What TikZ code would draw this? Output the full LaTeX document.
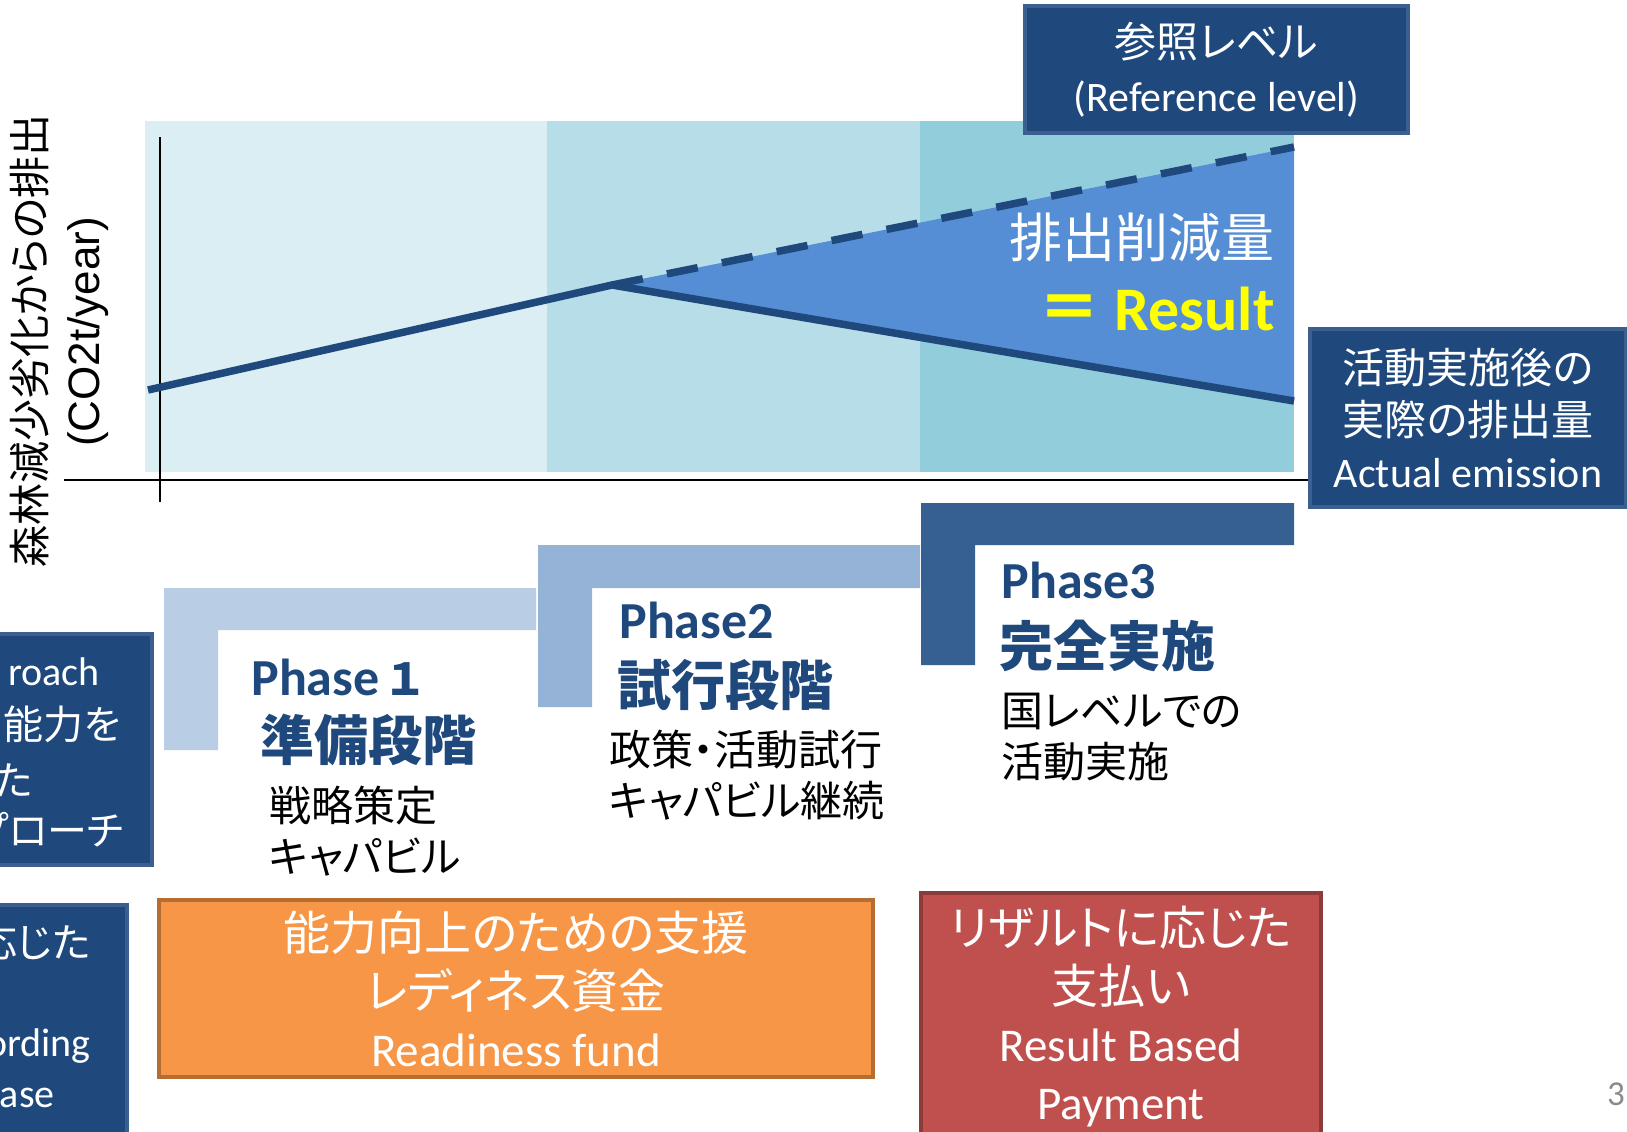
\documentclass[tikz,border=0pt]{standalone}
\usepackage{fontspec}
\setmainfont{Carlito}
\newfontfamily\jpfont[RawFeature=+palt]{Noto Sans CJK JP}
\newfontfamily\arialfont{Liberation Sans}
\usetikzlibrary{positioning}

\definecolor{panela}{HTML}{DAEEF3}
\definecolor{panelb}{HTML}{B7DEE8}
\definecolor{panelc}{HTML}{92CDDC}
\definecolor{gain}{HTML}{558ED5}
\definecolor{emisline}{HTML}{1F497D}
\definecolor{boxfill}{HTML}{1F497D}
\definecolor{boxedge}{HTML}{3B6090}
\definecolor{phasea}{HTML}{B9CDE5}
\definecolor{phaseb}{HTML}{95B3D7}
\definecolor{phasec}{HTML}{376092}
\definecolor{phasetext}{HTML}{1F497D}
\definecolor{fundfill}{HTML}{F79646}
\definecolor{fundedge}{HTML}{B66D31}
\definecolor{payfill}{HTML}{C0504D}
\definecolor{payedge}{HTML}{8C3B3B}
\definecolor{resultyellow}{HTML}{FFFF00}
\definecolor{pagegray}{HTML}{8B8B8B}

\begin{document}
\begin{tikzpicture}[x=0.5pt, y=-0.5pt, node distance=25.5pt, on grid,
    boxpaint/.style={draw=boxedge, line width=2pt, fill=boxfill},
    darkbox/.style={boxpaint, text=white, align=center, inner sep=0pt},
    cutline/.style={text=white, inner sep=0pt, font=\fontsize{20}{24}\selectfont},
    phasehead/.style={text=phasetext, inner sep=0pt, anchor=base west, font=\fontsize{26}{30}\selectfont\bfseries},
    stagename/.style={text=phasetext, inner sep=0pt, anchor=west, font=\jpfont\fontsize{27}{32}\selectfont\bfseries},
    body/.style={inner sep=0pt, anchor=west, font=\jpfont\fontsize{21}{25}\selectfont},
    fundbox/.style={line width=2pt, text=white, align=center, inner sep=0pt, font=\fontsize{23.5}{29}\selectfont},
    emis/.style={draw=emisline, line width=3.75pt}]
   \useasboundingbox (0,0) rectangle (1627,1131);
   \clip (0,0) rectangle (1627,1131);

   % chart background, one band per phase
   \fill[panela] (145,121) rectangle (547,472);
   \fill[panelb] (547,121) rectangle (920,472);
   \fill[panelc] (920,121) rectangle (1294,472);

   % axes
   \coordinate (y_top) at (160,137);
   \coordinate (y_bot) at (160,502);
   \coordinate (x_left) at (64,480);
   \coordinate (x_right) at (1310,480);
   \draw[line width=1pt] (y_top) -- (y_bot);
   \draw[line width=1pt] (x_left) -- (x_right);

   % emission curves
   \coordinate (start) at (148,390);
   \coordinate (peak) at (612,285);
   \coordinate (ref_end) at (1294,147);
   \coordinate (act_end) at (1294,401);
   \fill[gain] (peak) -- (ref_end) -- (act_end) -- cycle;
   \draw[emis, dash pattern=on 15.75pt off 12.25pt] (peak) -- (ref_end);
   \draw[emis] (start) -- (peak) -- (act_end);

   \node[text=white, inner sep=0pt, anchor=east, font=\jpfont\fontsize{26.5}{30}\selectfont] (cut_label) at (1275,237) {排出削減量};
   \node[text=resultyellow, inner sep=0pt, anchor=base east, font=\fontsize{31}{36}\selectfont\bfseries] (result_label) at (1275,330) {{\jpfont ＝} Result};

   % axis label
   \node[rotate=90, inner sep=0pt, font=\jpfont\fontsize{21}{25}\selectfont] (ylab_a) at (30,341) {森林減少劣化からの排出};
   \node[rotate=90, inner sep=0pt, font=\arialfont\fontsize{22}{26}\selectfont] (ylab_b) at (88,332) {(CO2t/year)};

   % boxes on the right
   \node[darkbox, minimum width=191.5pt, minimum height=63.5pt, font=\fontsize{21}{27}\selectfont] (ref_box) at (1216.5,69.5) {{\jpfont 参照レベル}\\(Reference level)};
   \node[darkbox, minimum width=158pt, minimum height=89pt, font=\fontsize{21}{26}\selectfont] (act_box) at (1468,418) {{\jpfont 活動実施後の}\\{\jpfont 実際の排出量}\\Actual emission};

   % phase steps
   \fill[phasea] (164,588) -- (536,588) -- (536,630) -- (218,630) -- (218,750) -- (164,750) -- cycle;
   \fill[phaseb] (538,545) -- (920,545) -- (920,588) -- (592,588) -- (592,707) -- (538,707) -- cycle;
   \fill[phasec] (921,503) -- (1294,503) -- (1294,545) -- (975,545) -- (975,665) -- (921,665) -- cycle;

   \node[phasehead] (p1_head) at (251,695) {Phase\,{\jpfont\fontsize{22}{26}\selectfont １}};
   \node[stagename] (p1_name) at (260,740) {準備段階};
   \node[body] (p1_a) at (269,806) {戦略策定};
   \node[body] (p1_b) [below=of p1_a.west, anchor=west] {キャパビル};

   \node[phasehead] (p2_head) at (619,638) {Phase2};
   \node[stagename] (p2_name) at (617,685) {試行段階};
   \node[body] (p2_a) at (609,750) {政策・活動試行};
   \node[body] (p2_b) [below=of p2_a.west, anchor=west] {キャパビル継続};

   \node[phasehead] (p3_head) at (1001,598) {Phase3};
   \node[stagename] (p3_name) at (999,646) {完全実施};
   \node[body] (p3_a) at (1001,711) {国レベルでの};
   \node[body] (p3_b) [below=of p3_a.west, anchor=west] {活動実施};

   % funding boxes
   \node[fundbox, draw=fundedge, fill=fundfill, minimum width=357pt, minimum height=88.5pt] (ready_box) at (516,988.5) {{\jpfont 能力向上のための支援}\\{\jpfont レディネス資金}\\Readiness fund};
   \node[fundbox, draw=payedge, fill=payfill, minimum width=200pt, minimum height=123.5pt] (pay_box) at (1121,1016.5) {{\jpfont リザルトに応じた}\\{\jpfont 支払い}\\Result Based\\Payment};

   % boxes cut off at the left edge
   \draw[boxpaint] (-150,634) rectangle (152,865);
   \node[cutline, anchor=base east] (appr_a) at (100,685) {roach};
   \node[cutline, anchor=east, font=\jpfont\fontsize{20}{24}\selectfont] (appr_b) at (121,724) {能力を};
   \node[cutline, anchor=east, font=\jpfont\fontsize{20}{24}\selectfont] (appr_c) at (33,780) {た};
   \node[cutline, anchor=east, font=\jpfont\fontsize{20}{24}\selectfont] (appr_d) at (124,830) {プローチ};

   \draw[boxpaint] (-150,905) rectangle (127,1150);
   \node[cutline, anchor=east, font=\jpfont\fontsize{20}{24}\selectfont] (resb_a) at (91,942) {応じた};
   \node[cutline, anchor=base east] (resb_b) at (91,1056) {ording};
   \node[cutline, anchor=base east] (resb_c) at (55,1107) {ase};

   \node[text=pagegray, inner sep=0pt, font=\fontsize{17.5}{20}\selectfont] (page_no) at (1616,1094) {3};
\end{tikzpicture}
\end{document}
